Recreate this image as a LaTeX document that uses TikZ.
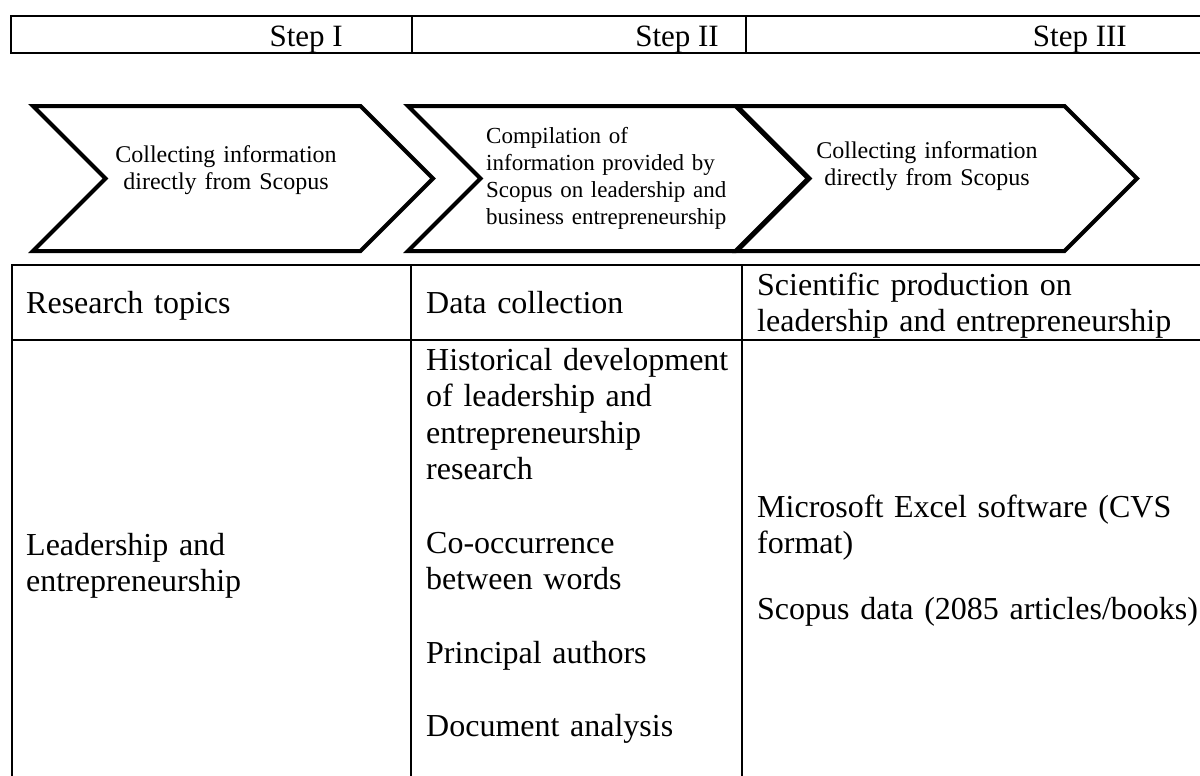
\documentclass[tikz,border=0pt]{standalone}
\usepackage{fontspec}
\setmainfont{Liberation Serif}
\usetikzlibrary{shapes.symbols}

\begin{document}
\begin{tikzpicture}[
  x=1pt, y=-1pt,
  chevron/.style={signal, signal from=west, signal to=east, signal pointer angle=90, draw, fill=white, line width=4pt, minimum width=400pt, minimum height=145pt, inner sep=0pt},
  chevtext/.style={inner sep=0pt, text width=280pt, font=\fontsize{24}{27}\selectfont},
  rule/.style={line width=1.6pt},
  steplbl/.style={anchor=base east, inner sep=0pt, font=\fontsize{31}{36}\selectfont},
  cell/.style={anchor=base west, inner sep=0pt, text width=460pt, align=left, font=\fontsize{32}{36.5}\selectfont},
]
  \useasboundingbox (0,0) rectangle (1200,776);

  % steps
  \draw[rule] (11,16) rectangle (1204,53);
  \draw[rule] (412,16) -- (412,53);
  \draw[rule] (746,16) -- (746,53);
  \node[steplbl] (st1) at (343,47) {Step I};
  \node[steplbl] (st2) at (719,47) {Step II};
  \node[steplbl] (st3) at (1127,47) {Step III};

  % chevrons
  \node[chevron] (c1) at (233,178.5) {};
  \node[chevron] (c2) at (608,178.5) {};
  \node[chevron] (c3) at (937,178.5) {};
  \node[chevtext, align=center, anchor=base] (t1) at (226,162) {Collecting information\\directly from Scopus};
  \node[chevtext, align=left, anchor=base west, font=\fontsize{23}{27.3}\selectfont] (t2) at (486,143) {Compilation of\\information provided by\\Scopus on leadership and\\business entrepreneurship};
  \node[chevtext, align=center, anchor=base] (t3) at (927,158) {Collecting information\\directly from Scopus};

  % table
  \draw[rule] (12,780) -- (12,265) -- (1204,265);
  \draw[rule] (12,340) -- (1204,340);
  \draw[rule] (411,265) -- (411,780);
  \draw[rule] (742,265) -- (742,780);

  \node[cell] (h1) at (26,313) {Research topics};
  \node[cell] (h2) at (426,313) {Data collection};
  \node[cell] (h3) at (757,295) {Scientific production on\\leadership and entrepreneurship};

  \node[cell] (b1) at (26,555) {Leadership and\\entrepreneurship};
  \node[cell] (b2) at (426,370) {Historical development\\of leadership and\\entrepreneurship\\research\\[37pt]Co-occurrence\\between words\\[37pt]Principal authors\\[37pt]Document analysis};
  \node[cell] (b3) at (757,517) {Microsoft Excel software (CVS\\format)\\[29pt]Scopus data (2085 articles/books)};
\end{tikzpicture}
\end{document}
